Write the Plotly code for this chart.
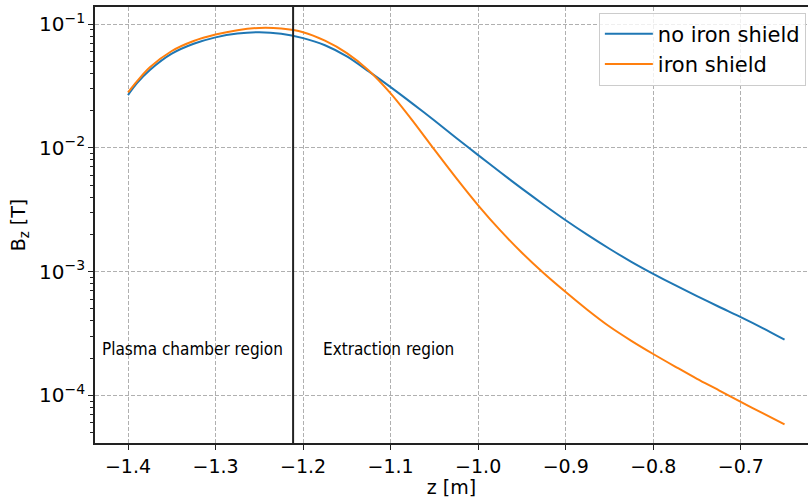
import plotly.graph_objects as go

z = [-1.400, -1.390, -1.375, -1.350, -1.325, -1.300, -1.275, -1.250, -1.225, -1.200,
     -1.175, -1.150, -1.125, -1.100, -1.075, -1.050, -1.025, -1.000, -0.975, -0.950,
     -0.925, -0.900, -0.875, -0.850, -0.825, -0.800, -0.775, -0.750, -0.725, -0.700,
     -0.675, -0.650]

b_no_shield = [0.02667, 0.03311, 0.04246, 0.05754, 0.06918, 0.07798, 0.08375, 0.08590, 0.08356, 0.07691,
               0.06730, 0.05470, 0.04140, 0.03090, 0.02275, 0.01660, 0.01202, 0.00873, 0.00637, 0.00468,
               0.00347, 0.00260, 0.00198, 0.00153, 0.00120, 0.000959, 0.000776, 0.000634, 0.000520, 0.000429,
               0.000350, 0.000282]

b_shield = [0.02805, 0.03428, 0.04467, 0.06053, 0.07295, 0.08222, 0.08913, 0.09290, 0.09183, 0.08590,
            0.07328, 0.05821, 0.04217, 0.02754, 0.01660, 0.00966, 0.00569, 0.00343, 0.00216, 0.00142,
            0.000970, 0.000684, 0.000490, 0.000360, 0.000276, 0.000216, 0.000171, 0.000136, 0.000110, 0.0000885,
            0.0000718, 0.0000583]

z_boundary = -1.2114
x_ticks = [-1.4, -1.3, -1.2, -1.1, -1.0, -0.9, -0.8, -0.7]
region_labels = ["Plasma chamber region", "Extraction region"]

FONT = "DejaVu Sans"
BLUE = "#1f77b4"
ORANGE = "#ff7f0e"

fig = go.Figure()
fig.add_trace(go.Scatter(x=z, y=b_no_shield, mode="lines", name="no iron shield",
                         line=dict(color=BLUE, width=2, shape="spline", smoothing=0.8)))
fig.add_trace(go.Scatter(x=z, y=b_shield, mode="lines", name="iron shield",
                         line=dict(color=ORANGE, width=2, shape="spline", smoothing=0.8)))

fig.add_shape(type="line", xref="x", yref="paper", x0=z_boundary, x1=z_boundary, y0=0, y1=1,
              line=dict(color="#222222", width=2))

fig.add_annotation(x=-1.4323, y=-3.625, xref="x", yref="y", text=region_labels[0],
                   showarrow=False, xanchor="left", yanchor="middle",
                   font=dict(family="DejaVu Sans Condensed, " + FONT, size=17, color="black"))
fig.add_annotation(x=-1.1798, y=-3.625, xref="x", yref="y", text=region_labels[1],
                   showarrow=False, xanchor="left", yanchor="middle",
                   font=dict(family="DejaVu Sans Condensed, " + FONT, size=17, color="black"))

grid_color = "#b0b0b0"
fig.update_layout(
    width=808, height=498,
    margin=dict(l=95, r=0, t=7, b=55),
    paper_bgcolor="white", plot_bgcolor="white",
    font=dict(family=FONT, size=19, color="black"),
    showlegend=True,
    legend=dict(x=0.997, y=0.987, xanchor="right", yanchor="top",
                bgcolor="rgba(255,255,255,0.8)", bordercolor="#cccccc", borderwidth=1,
                itemwidth=48,
                font=dict(family=FONT, size=21, color="black")),
    xaxis=dict(range=[-1.4377, -0.6232], tickvals=x_ticks, tickformat=".1f",
               showgrid=True, gridcolor=grid_color, griddash="4px,2px", gridwidth=1,
               zeroline=False, showline=True, linecolor="#222222", linewidth=1.5, mirror=True,
               ticks="outside", ticklen=5, tickcolor="#222222",
               tickfont=dict(family=FONT, size=19, color="black"),
               title=dict(text="z [m]", font=dict(family=FONT, size=19, color="black"), standoff=6)),
    yaxis=dict(type="log", range=[-4.3845, -0.8627], dtick=1, exponentformat="power",
               showgrid=True, gridcolor=grid_color, griddash="4px,2px", gridwidth=1,
               zeroline=False, showline=True, linecolor="#222222", linewidth=1.5, mirror=False,
               ticks="outside", ticklen=5, tickcolor="#222222",
               minor=dict(ticks="outside", ticklen=3, tickcolor="#222222", showgrid=False),
               tickfont=dict(family=FONT, size=16, color="black"),
               title=dict(text="B<sub>z</sub> [T]", font=dict(family=FONT, size=19, color="black"), standoff=8)),
)

fig.write_html("out.html")
